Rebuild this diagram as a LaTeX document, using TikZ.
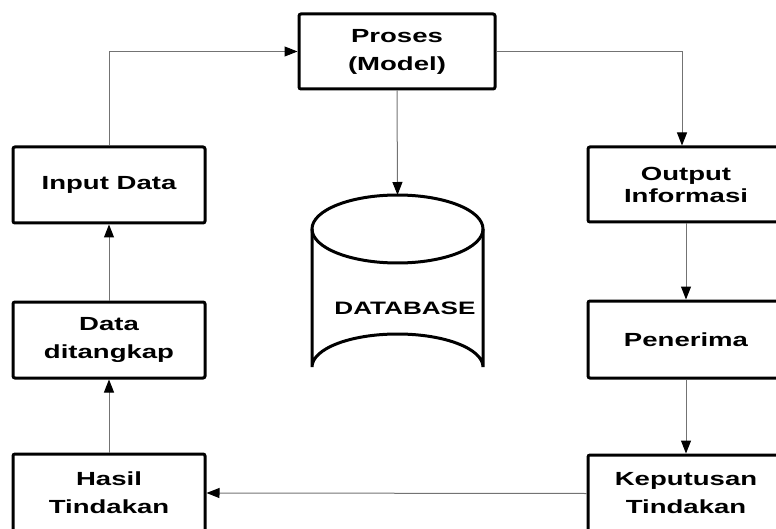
\documentclass[tikz,border=0pt]{standalone}
\usepackage{fontspec}
\usetikzlibrary{arrows.meta}
\newfontfamily\boxfont{Liberation Sans}[FakeStretch=1.45]
\begin{document}
\begin{tikzpicture}[x=1pt,y=-1pt,
  box/.style={draw, line width=3pt, rounded corners=2pt, align=center,
    fill=white, inner sep=0pt,
    font=\boxfont\bfseries\fontsize{19pt}{28pt}\selectfont},
  leftbox/.style={box, minimum width=192pt, minimum height=76pt},
  rightbox/.style={box, minimum width=196pt, minimum height=77pt},
  link/.style={draw=black!55, line width=1pt,
    -{Triangle[length=13pt,width=10pt,fill=black,color=black]}},
  dbline/.style={line width=3pt}]
\useasboundingbox (0,0) rectangle (776,529);
\clip (0,0) rectangle (776,529);

% process boxes
\node[box, minimum width=196pt, minimum height=75pt] (proses) at (397,51.5) {Proses\\(Model)};
\node[leftbox] (inp) at (109,185) {Input Data};
\node[leftbox] (dit) at (109,340) {Data\\ditangkap};
\node[leftbox, minimum height=78pt] (hasil) at (109,493) {Hasil\\Tindakan};
\node[rightbox, minimum height=75pt,
  font=\boxfont\bfseries\fontsize{19pt}{22pt}\selectfont] (out) at (686,184.5) {Output\\Informasi};
\node[rightbox] (pen) at (686,339.5) {Penerima};
\node[rightbox] (kep) at (686,493.5) {Keputusan\\Tindakan};

% database cylinder
\coordinate (dbtop) at (397.5,195);
\draw[dbline] (397.5,229) ellipse [x radius=85.5, y radius=34];
\draw[dbline] (312,229) -- (312,367) arc[start angle=180, end angle=360, x radius=85.5, y radius=33] -- (483,229);
\node[font=\boxfont\bfseries\fontsize{18pt}{22pt}\selectfont] (db) at (405,308) {DATABASE};

% connectors
\draw[link] (inp.north) |- (proses.west);
\draw[link] (proses.east) -| ([xshift=-4pt]out.north);
\draw[link] (proses.south) -- (dbtop);
\draw[link] (out.south) -- (pen.north);
\draw[link] (pen.south) -- (kep.north);
\draw[link] (kep.west) -- (hasil.east);
\draw[link] (hasil.north) -- (dit.south);
\draw[link] (dit.north) -- (inp.south);
\end{tikzpicture}
\end{document}
